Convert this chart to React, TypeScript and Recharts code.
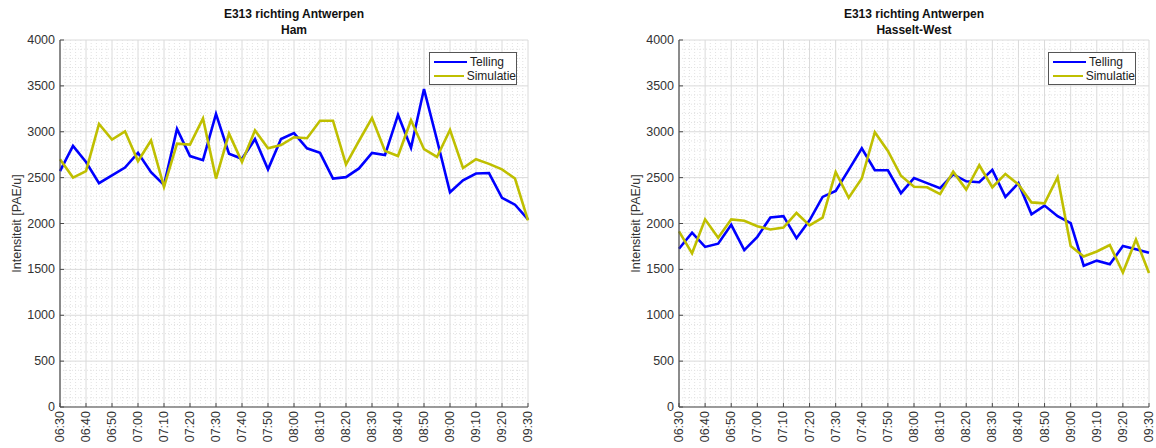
import { CartesianGrid, Line, LineChart, ReferenceLine, XAxis, YAxis } from "recharts";

const times = [
  "06:30", "06:35", "06:40", "06:45", "06:50", "06:55", "07:00", "07:05", "07:10", "07:15",
  "07:20", "07:25", "07:30", "07:35", "07:40", "07:45", "07:50", "07:55", "08:00", "08:05",
  "08:10", "08:15", "08:20", "08:25", "08:30", "08:35", "08:40", "08:45", "08:50", "08:55",
  "09:00", "09:05", "09:10", "09:15", "09:20", "09:25", "09:30",
];

const hamTelling = [
  2570, 2845, 2670, 2440, 2525, 2610, 2770, 2560, 2420, 3030, 2735, 2690, 3195, 2760, 2705, 2920, 2590, 2920, 2985,
  2820, 2770, 2490, 2505, 2600, 2770, 2745, 3185, 2825, 3465, 2910, 2340, 2470, 2545, 2550, 2280, 2205, 2045,
];
const hamSimulatie = [
  2700, 2500, 2570, 3085, 2915, 3005, 2680, 2905, 2400, 2870, 2860, 3145, 2490, 2980, 2670, 3015, 2820, 2855, 2940,
  2930, 3120, 3120, 2645, 2900, 3150, 2790, 2735, 3125, 2810, 2725, 3020, 2605, 2700, 2650, 2590, 2490, 2035,
];
const hasseltTelling = [
  1725, 1900, 1745, 1780, 1985, 1710, 1855, 2065, 2080, 1840, 2035, 2290, 2355, 2585, 2820, 2580, 2580, 2330, 2495,
  2440, 2385, 2535, 2460, 2450, 2585, 2290, 2440, 2100, 2195, 2080, 2005, 1540, 1595, 1555, 1755, 1720, 1680,
];
const hasseltSimulatie = [
  1915, 1675, 2045, 1845, 2045, 2030, 1970, 1935, 1955, 2115, 1980, 2065, 2560, 2280, 2490, 2995, 2790, 2520, 2400,
  2395, 2320, 2565, 2370, 2635, 2395, 2540, 2425, 2230, 2220, 2505, 1755, 1640, 1695, 1765, 1465, 1825, 1460,
];

const xTickLabels = [
  "06:30", "06:40", "06:50", "07:00", "07:10", "07:20", "07:30", "07:40", "07:50", "08:00",
  "08:10", "08:20", "08:30", "08:40", "08:50", "09:00", "09:10", "09:20", "09:30",
];
const yTicks = [0, 500, 1000, 1500, 2000, 2500, 3000, 3500, 4000];

const FONT = "'Liberation Sans', Arial, Helvetica, sans-serif";
const BLUE = "#0000ff";
const YELLOW = "#bfbf00";
const AXIS = "#4a4a4a";
const TEXT = "#333333";

const toMin = (s: string) => {
  const [h, m] = s.split(":").map(Number);
  return (h - 6) * 60 + m - 30;
};
const fromMin = (v: number) => {
  const t = v + 390;
  const h = Math.floor(t / 60);
  const m = t % 60;
  return `${String(h).padStart(2, "0")}:${String(m).padStart(2, "0")}`;
};

const xTicks = xTickLabels.map(toMin);
// minor grid: every 2 minutes / every 100 units
const xMinor = Array.from({ length: 91 }, (_, i) => i * 2).filter((v) => v % 10 !== 0);
const yMinor = Array.from({ length: 41 }, (_, i) => i * 100).filter((v) => v % 500 !== 0);

function XTick(props: any) {
  const { x, y, payload } = props;
  return (
    <g>
      <line x1={x} x2={x} y1={y} y2={y - 4} stroke={AXIS} strokeWidth={1} />
      <text
        x={x}
        y={y + 4}
        transform={`rotate(-90 ${x} ${y + 4})`}
        textAnchor="end"
        dominantBaseline="central"
        fontSize={12.5}
        fontFamily={FONT}
        fill={TEXT}
      >
        {fromMin(payload.value)}
      </text>
    </g>
  );
}

function YTick(props: any) {
  const { x, y, payload } = props;
  return (
    <g>
      <line x1={x} x2={x + 4} y1={y} y2={y} stroke={AXIS} strokeWidth={1} />
      <text x={x - 5} y={y} textAnchor="end" dominantBaseline="central" fontSize={12.5} fontFamily={FONT} fill={TEXT}>
        {payload.value}
      </text>
    </g>
  );
}

function YLabel(props: any) {
  const { viewBox } = props;
  const cx = viewBox.x + 7;
  const cy = viewBox.y + viewBox.height / 2;
  return (
    <text
      x={cx}
      y={cy}
      transform={`rotate(-90 ${cx} ${cy})`}
      textAnchor="middle"
      dominantBaseline="central"
      fontSize={12.5}
      fontFamily={FONT}
      fill={TEXT}
    >
      Intensiteit [PAE/u]
    </text>
  );
}

function LegendBox({ left, top }: { left: number; top: number }) {
  const row = (color: string, label: string) => (
    <div style={{ display: "flex", alignItems: "center", height: 14 }}>
      <div style={{ width: 33, height: 2.5, background: color, marginRight: 3 }} />
      <span>{label}</span>
    </div>
  );
  return (
    <div
      style={{
        position: "absolute",
        left,
        top,
        width: 88,
        height: 33,
        border: "1px solid #555",
        background: "#fff",
        boxSizing: "border-box",
        padding: "2px 0 0 4px",
        fontFamily: FONT,
        fontSize: 12,
        color: "#222",
        lineHeight: "14px",
      }}
    >
      {row(BLUE, "Telling")}
      {row(YELLOW, "Simulatie")}
    </div>
  );
}

function Panel({
  left,
  subtitle,
  telling,
  simulatie,
  margin,
  legendLeft,
}: {
  left: number;
  subtitle: string;
  telling: number[];
  simulatie: number[];
  margin: { top: number; right: number; bottom: number; left: number };
  legendLeft: number;
}) {
  const data = times.map((t, i) => ({ t: toMin(t), telling: telling[i], simulatie: simulatie[i] }));
  const plotLeft = margin.left + 50;
  const plotRight = 578 - margin.right;
  const center = (plotLeft + plotRight) / 2;
  return (
    <div style={{ position: "absolute", left, top: 0, width: 578, height: 448 }}>
      <div
        style={{
          position: "absolute",
          left: center - 150,
          width: 300,
          top: 6,
          textAlign: "center",
          fontFamily: FONT,
          fontSize: 12,
          fontWeight: "bold",
          color: "#111",
          lineHeight: "16px",
        }}
      >
        <div>E313 richting Antwerpen</div>
        <div>{subtitle}</div>
      </div>
      <LineChart width={578} height={448} data={data} margin={margin}>
        <CartesianGrid stroke="#dadada" strokeWidth={1} />
        {xMinor.map((v) => (
          <ReferenceLine key={`x${v}`} x={v} stroke="#e2e2e2" strokeDasharray="1 2" ifOverflow="hidden" />
        ))}
        {yMinor.map((v) => (
          <ReferenceLine key={`y${v}`} y={v} stroke="#e2e2e2" strokeDasharray="1 2" ifOverflow="hidden" />
        ))}
        <XAxis
          dataKey="t"
          type="number"
          domain={[0, 180]}
          ticks={xTicks}
          interval={0}
          height={38}
          tickSize={0}
          tickMargin={0}
          tickLine={false}
          axisLine={{ stroke: AXIS, strokeWidth: 1.2 }}
          tick={<XTick />}
        />
        <YAxis
          domain={[0, 4000]}
          ticks={yTicks}
          interval={0}
          width={50}
          tickSize={0}
          tickMargin={0}
          tickLine={false}
          axisLine={{ stroke: AXIS, strokeWidth: 1.2 }}
          tick={<YTick />}
          label={<YLabel />}
        />
        <Line dataKey="telling" stroke={BLUE} strokeWidth={2.6} dot={false} isAnimationActive={false} />
        <Line dataKey="simulatie" stroke={YELLOW} strokeWidth={2.6} dot={false} isAnimationActive={false} />
      </LineChart>
      <LegendBox left={legendLeft} top={52} />
    </div>
  );
}

export default function App() {
  return (
    <div style={{ position: "absolute", left: 0, top: 0, width: 1156, height: 448, background: "#fff" }}>
      <Panel
        left={0}
        subtitle="Ham"
        telling={hamTelling}
        simulatie={hamSimulatie}
        margin={{ top: 40, right: 50, bottom: 3, left: 10 }}
        legendLeft={429}
      />
      <Panel
        left={578}
        subtitle="Hasselt-West"
        telling={hasseltTelling}
        simulatie={hasseltSimulatie}
        margin={{ top: 40, right: 7, bottom: 3, left: 51 }}
        legendLeft={470}
      />
    </div>
  );
}
